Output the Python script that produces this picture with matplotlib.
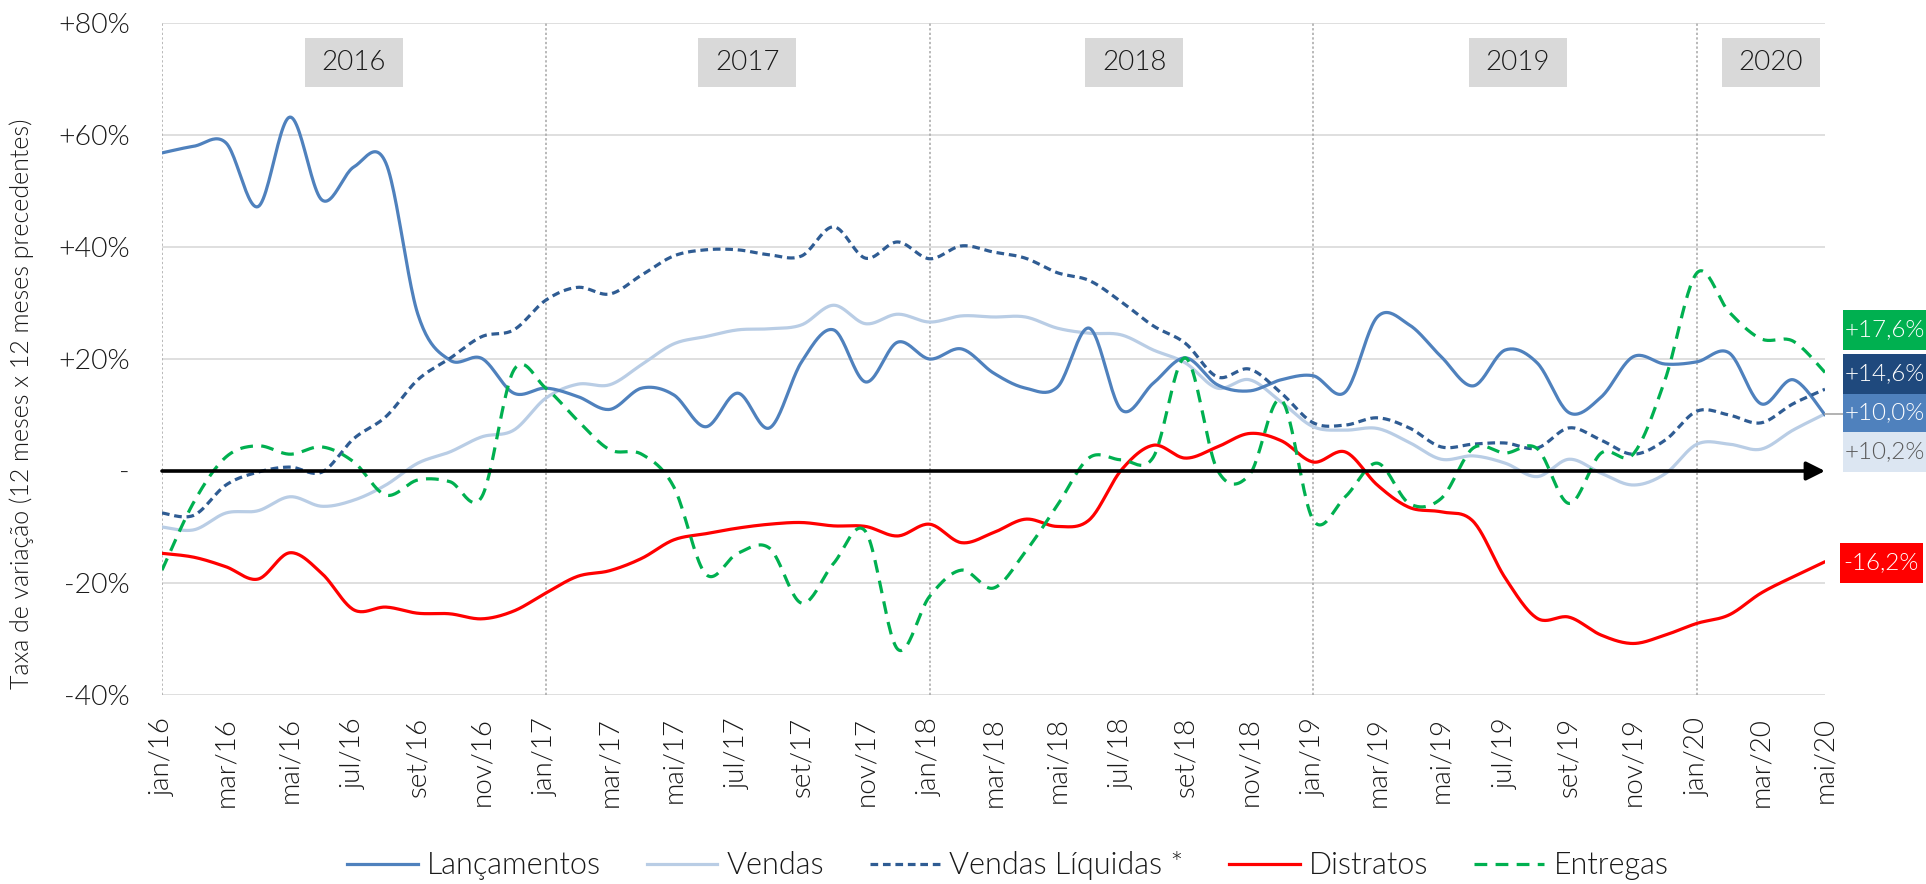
import numpy as np
import matplotlib
matplotlib.use("Agg")
import matplotlib.pyplot as plt
from matplotlib.lines import Line2D
from matplotlib.patches import Rectangle

plt.rcParams['font.family'] = ['Lato', 'DejaVu Sans']
plt.rcParams['font.weight'] = 300

# ---------------- data ----------------
month_labels = ["jan/16", "fev/16", "mar/16", "abr/16", "mai/16", "jun/16", "jul/16", "ago/16", "set/16", "out/16", "nov/16", "dez/16",
                "jan/17", "fev/17", "mar/17", "abr/17", "mai/17", "jun/17", "jul/17", "ago/17", "set/17", "out/17", "nov/17", "dez/17",
                "jan/18", "fev/18", "mar/18", "abr/18", "mai/18", "jun/18", "jul/18", "ago/18", "set/18", "out/18", "nov/18", "dez/18",
                "jan/19", "fev/19", "mar/19", "abr/19", "mai/19", "jun/19", "jul/19", "ago/19", "set/19", "out/19", "nov/19", "dez/19",
                "jan/20", "fev/20", "mar/20", "abr/20", "mai/20"]

lancamentos = [56.8, 58.0, 58.6, 47.2, 63.2, 48.4, 54.3, 55.0, 28.0, 19.8, 20.1, 13.9,
               14.8, 13.3, 11.0, 14.8, 13.6, 7.9, 13.9, 7.7, 19.5, 25.2, 15.9, 23.0,
               20.0, 21.8, 17.5, 14.8, 15.0, 25.5, 10.9, 15.7, 20.2, 15.4, 14.3, 16.3,
               17.0, 14.1, 27.5, 26.1, 20.4, 15.2, 21.6, 19.3, 10.4, 13.2, 20.4, 19.1,
               19.5, 21.1, 12.0, 16.3, 10.0]

vendas = [-10.0, -10.5, -7.5, -7.1, -4.6, -6.3, -5.2, -2.5, 1.4, 3.4, 6.1, 7.3,
          13.0, 15.5, 15.4, 19.0, 22.7, 24.0, 25.2, 25.4, 26.1, 29.6, 26.3, 28.0,
          26.6, 27.7, 27.5, 27.5, 25.5, 24.6, 24.3, 21.6, 19.3, 14.8, 16.3, 12.3,
          7.9, 7.3, 7.6, 5.1, 2.1, 2.7, 1.4, -1.0, 2.1, -0.4, -2.5, -0.5,
          4.8, 4.8, 3.9, 7.3, 10.2]

vendas_liquidas = [-7.5, -7.9, -2.5, -0.2, 0.7, -0.2, 5.8, 9.7, 16.3, 20.1, 24.0, 25.2,
                   30.5, 32.8, 31.6, 35.0, 38.4, 39.5, 39.5, 38.6, 38.4, 43.6, 38.0, 40.9,
                   37.9, 40.2, 39.1, 38.0, 35.4, 34.0, 30.2, 25.9, 22.8, 16.8, 18.2, 13.9,
                   8.6, 8.2, 9.5, 7.7, 4.3, 4.8, 5.0, 4.1, 7.7, 5.5, 3.0, 5.5,
                   10.7, 10.0, 8.6, 12.0, 14.6]

distratos = [-14.7, -15.4, -17.1, -19.3, -14.6, -18.3, -24.8, -24.3, -25.4, -25.5, -26.4, -25.0,
             -21.8, -18.8, -17.8, -15.6, -12.3, -11.2, -10.2, -9.5, -9.2, -9.8, -9.9, -11.6,
             -9.5, -12.8, -11.0, -8.6, -9.9, -8.7, 0.2, 4.6, 2.3, 4.3, 6.7, 5.4,
             1.6, 3.4, -2.5, -6.5, -7.3, -9.0, -19.1, -26.3, -26.1, -29.3, -30.8, -29.3,
             -27.2, -25.7, -21.8, -18.9, -16.2]

entregas = [-17.7, -5.5, 2.5, 4.5, 3.0, 4.3, 1.6, -4.3, -1.6, -1.9, -4.6, 18.0,
            14.8, 9.0, 3.8, 3.0, -2.8, -18.4, -14.7, -13.8, -23.6, -16.5, -10.8, -31.8,
            -22.4, -17.7, -20.9, -14.4, -6.1, 2.4, 2.0, 2.5, 20.2, 0.2, -0.7, 12.7,
            -8.8, -4.6, 1.4, -5.8, -4.9, 4.1, 3.2, 4.0, -5.8, 3.2, 3.0, 16.3,
            35.4, 28.4, 23.6, 23.2, 17.6]

last_labels = {"Entregas": 17.6, "Vendas Líquidas *": 14.6, "Lançamentos": 10.0,
               "Vendas": 10.2, "Distratos": -16.2}

years = ["2016", "2017", "2018", "2019", "2020"]
yticks = [-40, -20, 0, 20, 40, 60, 80]
ytick_labels = ["-40%", "-20%", "-", "+20%", "+40%", "+60%", "+80%"]

# ---------------- helpers ----------------
def smooth(y, n=24):
    """Bezier smoothing like spreadsheet 'smoothed line' (rendering only)."""
    y = np.asarray(y, float)
    x = np.arange(len(y), dtype=float)
    px = np.concatenate([[x[0]], x, [x[-1]]])
    py = np.concatenate([[y[0]], y, [y[-1]]])
    xs, ys = [], []
    t = np.linspace(0, 1, n, endpoint=False)
    for i in range(len(y) - 1):
        p0x, p1x, p2x, p3x = px[i], px[i + 1], px[i + 2], px[i + 3]
        p0y, p1y, p2y, p3y = py[i], py[i + 1], py[i + 2], py[i + 3]
        c1x = p1x + (p2x - p0x) / 6.0
        c1y = p1y + (p2y - p0y) / 6.0
        c2x = p2x - (p3x - p1x) / 6.0
        c2y = p2y - (p3y - p1y) / 6.0
        b0 = (1 - t) ** 3
        b1 = 3 * (1 - t) ** 2 * t
        b2 = 3 * (1 - t) * t ** 2
        b3 = t ** 3
        xs.append(b0 * p1x + b1 * c1x + b2 * c2x + b3 * p2x)
        ys.append(b0 * p1y + b1 * c1y + b2 * c2y + b3 * p2y)
    xs.append([x[-1]])
    ys.append([y[-1]])
    return np.concatenate(xs), np.concatenate(ys)

W, H = 1926, 884
fig = plt.figure(figsize=(W / 100, H / 100), dpi=100)
L, R, T, B = 162, 1825, 23, 695
ax = fig.add_axes([L / W, 1 - B / H, (R - L) / W, (B - T) / H])

n = len(month_labels)
ax.set_xlim(0, n - 1)
ax.set_ylim(-40, 80)

for s in ax.spines.values():
    s.set_visible(False)

# grid
for v in yticks:
    if v != 0:
        ax.axhline(v, color="#D9D9D9", lw=1.2, zorder=1)
for i in range(0, n, 12):
    ax.axvline(i, color="#A6A6A6", lw=1.1, ls=(0, (1.5, 1.5)), zorder=1)

C_LANC = "#4F81BD"
C_VEND = "#B9CDE5"
C_VL = "#2F5C93"
C_DIST = "#FF0000"
C_ENT = "#00B050"

lw = 2.3
series = [
    ("Lançamentos", lancamentos, dict(color=C_LANC, lw=lw)),
    ("Vendas", vendas, dict(color=C_VEND, lw=lw)),
    ("Vendas Líquidas *", vendas_liquidas, dict(color=C_VL, lw=lw, dashes=(2.4, 1.5))),
    ("Distratos", distratos, dict(color=C_DIST, lw=lw)),
    ("Entregas", entregas, dict(color=C_ENT, lw=lw, dashes=(4.0, 2.6))),
]
zorders = {"Lançamentos": 4, "Vendas": 3, "Vendas Líquidas *": 5, "Distratos": 6, "Entregas": 7}
for name, vals, kw in series:
    sx, sy = smooth(vals)
    ax.plot(sx, sy, zorder=zorders[name], solid_capstyle="round", **kw)

# zero arrow
ax.annotate("", xy=(n - 1, 0), xytext=(0, 0),
            arrowprops=dict(arrowstyle="-|>", color="black", lw=2.6,
                            mutation_scale=28, shrinkA=0, shrinkB=0),
            zorder=8)

TXT = "#1A1A1A"
# ticks
ax.set_yticks(yticks)
ax.set_yticklabels(ytick_labels, fontsize=20.5, color=TXT)
ax.set_xticks(np.arange(0, n, 2))
ax.set_xticklabels(month_labels[::2], rotation=90, fontsize=20, color=TXT)
ax.tick_params(axis="both", length=0)
ax.tick_params(axis="y", pad=23)
ax.tick_params(axis="x", pad=16)

fig.text(22 / W, 1 - 404 / H, "Taxa de variação (12 meses x 12 meses precedentes)",
         rotation=90, fontsize=18, color=TXT, ha="center", va="center")

# year boxes
year_centers = [6.0, 18.3, 30.4, 42.4, 50.3]
box_w_px, box_h_px = 98, 49
for yr, cx in zip(years, year_centers):
    xc_px = L + cx * (R - L) / (n - 1)
    fig.patches.append(Rectangle(((xc_px - box_w_px / 2) / W, 1 - 87 / H),
                                 box_w_px / W, box_h_px / H,
                                 transform=fig.transFigure, facecolor="#D9D9D9",
                                 edgecolor="none", zorder=2))
    fig.text(xc_px / W, 1 - 62.5 / H, yr, fontsize=20, color=TXT,
             ha="center", va="center", zorder=3)

# end labels
boxes = [
    ("Entregas", 310, 350, 1843, "#00B050", "white"),
    ("Vendas Líquidas *", 354, 394, 1843, "#1F497D", "white"),
    ("Lançamentos", 394, 432, 1843, "#4F81BD", "white"),
    ("Vendas", 432, 472, 1843, "#DCE6F2", "#595959"),
    ("Distratos", 543, 583, 1840, "#FF0000", "white"),
]

def fmt(v):
    s = f"{v:+.1f}%".replace(".", ",")
    return s

# leader line for Vendas
yv = 1 - 414 / H
fig.add_artist(Line2D([R / W, 1843 / W], [yv, yv], color="#A6A6A6", lw=1.2))
for name, y0, y1, x0, fc, tc in boxes:
    bw = 83
    fig.patches.append(Rectangle((x0 / W, 1 - y1 / H), bw / W, (y1 - y0) / H,
                                 transform=fig.transFigure, facecolor=fc,
                                 edgecolor="none", zorder=2))
    fig.text((x0 + bw / 2) / W, 1 - (y0 + y1) / 2 / H, fmt(last_labels[name]),
             fontsize=17.5, color=tc, ha="center", va="center", zorder=3)

# legend
handles = []
for name, vals, kw in series:
    kk = dict(kw)
    handles.append(Line2D([0], [0], **kk))
fig.legend(handles, [s[0] for s in series], loc="center",
           bbox_to_anchor=(1008 / W, 1 - 866 / H), ncol=5, frameon=False,
           fontsize=22, handlelength=2.3, columnspacing=1.5, handletextpad=0.3,
           labelcolor=TXT)

fig.savefig("out.png", dpi=100, facecolor="white")
